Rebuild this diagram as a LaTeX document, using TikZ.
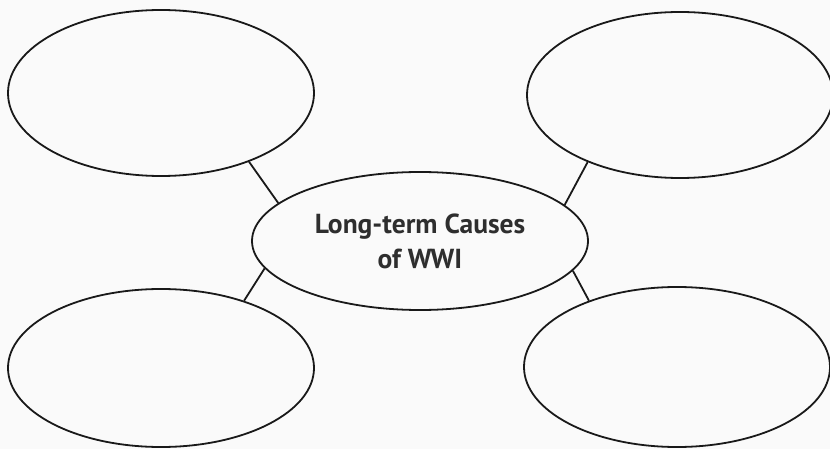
\documentclass[tikz,border=0pt]{standalone}
\usepackage{fontspec}
\setsansfont{PT Sans}
\usetikzlibrary{shapes.geometric}

\begin{document}
\begin{tikzpicture}[x=1pt, y=-1pt,
% Node styles
 bubble/.style={draw=black!90, line width=1.8pt, ellipse, inner sep=0pt,
 minimum width=306pt, minimum height=166pt},
 hub/.style={minimum width=336pt, minimum height=138pt,
 font=\sffamily\bfseries\fontsize{27.5}{35}\selectfont, text=black!82, align=center},
% Edge styles
 edge/.style={draw=black!90, line width=1.8pt}
]
% Page background
\fill[black!2] (0,0) rectangle (830,449);
\useasboundingbox (0,0) rectangle (830,449);
% Centre node
\node[bubble, hub] (causes) at (420,241) {Long-term Causes\\of WWI};
% Top bubbles
\node[bubble] (topleft) at (161,93) {};
\node[bubble] (topright) at (680,95) {};
% Bottom bubbles
\node[bubble, minimum height=158pt] (botleft) at (161,368) {};
\node[bubble, minimum height=160pt] (botright) at (677,367) {};
% Connect bubbles to the centre
\draw[edge] (topleft.-38.6) -- (causes.165.2);
\draw[edge] (topright.216.4) -- (causes.14.6);
\draw[edge] (botleft.39) -- (causes.190.7);
\draw[edge] (botright.143.2) -- (causes.349.3);
\end{tikzpicture}
\end{document}
